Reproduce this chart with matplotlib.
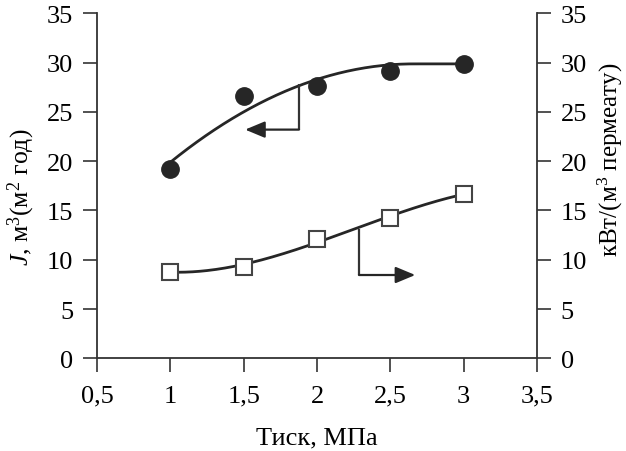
import numpy as np
import matplotlib
matplotlib.use("Agg")
import matplotlib.pyplot as plt

# ---- data ----
pressure = [1.0, 1.5, 2.0, 2.5, 3.0]
flux = [19.2, 26.6, 27.6, 29.1, 29.9]          # left axis, filled circles
energy = [8.8, 9.3, 12.1, 14.2, 16.7]           # right axis, open squares

x_ticks = [0.5, 1.0, 1.5, 2.0, 2.5, 3.0, 3.5]
x_ticklabels = ["0,5", "1", "1,5", "2", "2,5", "3", "3,5"]
y_ticks = [0, 5, 10, 15, 20, 25, 30, 35]

# annotation arrow anchors (data coordinates)
arrow_left = [(1.877, 27.8), (1.877, 23.2), (1.51, 23.2)]
arrow_right = [(2.286, 13.1), (2.286, 8.45), (2.67, 8.45)]

plt.rcParams['font.family'] = ['Liberation Serif', 'DejaVu Serif']
plt.rcParams['mathtext.fontset'] = 'custom'
plt.rcParams['mathtext.rm'] = 'Liberation Serif'
plt.rcParams['mathtext.it'] = 'Liberation Serif:italic'

FS = 19
dark = '#262626'
axc = '#333333'

fig = plt.figure(figsize=(6.26, 4.52), dpi=100)
ax = fig.add_axes([97/626, 1 - 359.3/452, 440/626, 345/452])
ax2 = ax.twinx()

# trend curves fitted to the data
xs = np.linspace(min(pressure), max(pressure), 200)
c1 = np.polyfit(pressure, flux, 2)
y1 = np.maximum.accumulate(np.polyval(c1, xs))
c2 = np.polyfit(pressure, energy, 3)
y2 = np.polyval(c2, xs)

ax.plot(xs, y1, color=dark, lw=2.0, zorder=2)
ax.plot(pressure, flux, 'o', ms=12.5, color=dark, zorder=3)

ax2.plot(xs, y2, color=dark, lw=2.0, zorder=2)
ax2.plot(pressure, energy, 's', ms=11, mfc='white', mec='#444444', mew=1.5, zorder=3)

# arrows
for pts, a in ((arrow_left, ax), (arrow_right, ax2)):
    a.plot([pts[0][0], pts[1][0]], [pts[0][1], pts[1][1]], color=axc, lw=1.6,
           solid_capstyle='butt')
    a.annotate('', xy=pts[2], xytext=pts[1],
               arrowprops=dict(arrowstyle='-|>,head_length=1.2,head_width=0.5',
                               lw=1.6, color=dark, shrinkA=0, shrinkB=0,
                               mutation_scale=10))

for a in (ax, ax2):
    a.set_xlim(0.5, 3.5)
    a.set_ylim(0, 35)
    a.set_yticks(y_ticks)
    a.spines['top'].set_visible(False)
    for s in a.spines.values():
        s.set_color(axc)
        s.set_linewidth(1.3)
    a.tick_params(direction='out', length=10, width=1.2, colors=axc,
                  labelcolor='black', labelsize=FS, pad=7)

ax.spines['right'].set_visible(False)
ax2.spines['left'].set_visible(False)
ax2.spines['bottom'].set_visible(False)
ax.set_xticks(x_ticks)
ax.set_xticklabels(x_ticklabels)
ax.tick_params(axis='x', pad=9)

ax.set_xlabel('Тиск, МПа', fontsize=FS, labelpad=14)
fig.text(21/626, 1 - 197/452, r'$J$, м$^{3}$(м$^{2}$ год)', rotation=90,
         fontsize=18.5, ha='center', va='center')
fig.text(610/626, 1 - 160/452, r'кВт/(м$^{3}$ пермеату)', rotation=90,
         fontsize=18, ha='center', va='center')

fig.savefig('out.png', dpi=100)
